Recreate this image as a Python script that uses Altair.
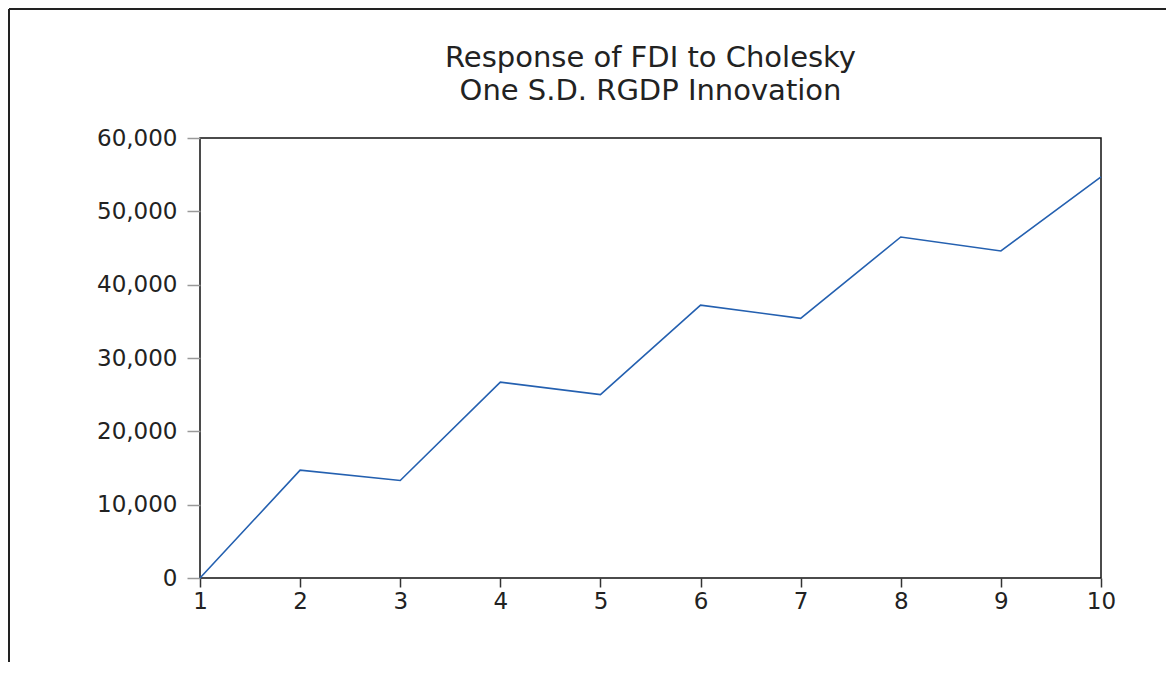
import altair as alt
import pandas as pd

periods = [1, 2, 3, 4, 5, 6, 7, 8, 9, 10]
response = [0, 14700, 13300, 26700, 25000, 37200, 35400, 46500, 44600, 54700]
y_ticks = [0, 10000, 20000, 30000, 40000, 50000, 60000]
title_lines = ["Response of FDI to Cholesky", "One S.D. RGDP Innovation"]

df = pd.DataFrame({"period": periods, "response": response})
one = pd.DataFrame({"k": [0]})

FONT = "DejaVu Sans"

line = alt.Chart(df).mark_line(color="#2460b0", strokeWidth=1.6).encode(
    x=alt.X("period:Q",
            scale=alt.Scale(domain=[1, 10], nice=False, zero=False),
            axis=alt.Axis(values=periods, title=None, format="d", grid=False,
                          domain=False, tickColor="#333", tickSize=9, tickWidth=1.5,
                          labelFont=FONT, labelFontSize=23, labelColor="#222",
                          labelPadding=3, labelFlush=False, labelOverlap=False)),
    y=alt.Y("response:Q",
            scale=alt.Scale(domain=[0, 60000], nice=False),
            axis=alt.Axis(values=y_ticks, title=None, format=",d", grid=False,
                          domain=False, tickColor="#999", tickSize=13, tickWidth=1.5,
                          labelFont=FONT, labelFontSize=23, labelColor="#222",
                          labelPadding=10, labelFlush=False, labelOverlap=False)),
)

# chart title, two lines
title1 = alt.Chart(one).mark_text(font=FONT, fontSize=29, color="#222",
                                  align="center", baseline="alphabetic").encode(
    x=alt.value(450.5), y=alt.value(-71), text=alt.value(title_lines[0]))
title2 = alt.Chart(one).mark_text(font=FONT, fontSize=29, color="#222",
                                  align="center", baseline="alphabetic").encode(
    x=alt.value(450.5), y=alt.value(-38), text=alt.value(title_lines[1]))

# outer figure border (left and top edges visible)
left_edge = alt.Chart(one).mark_rule(color="#222", strokeWidth=2).encode(
    x=alt.value(-191), y=alt.value(-129), y2=alt.value(700))
top_edge = alt.Chart(one).mark_rule(color="#222", strokeWidth=2).encode(
    x=alt.value(-191), x2=alt.value(1100), y=alt.value(-129))

chart = alt.layer(line, title1, title2, left_edge, top_edge).properties(
    width=901, height=440,
    autosize=alt.AutoSizeParams(type="none"),
    padding={"left": 192, "top": 130, "right": 65, "bottom": 84},
).configure(background="white").configure_view(stroke="#111", strokeWidth=1.5)

chart.save("out.html", embed_options={"renderer": "svg", "actions": False})
